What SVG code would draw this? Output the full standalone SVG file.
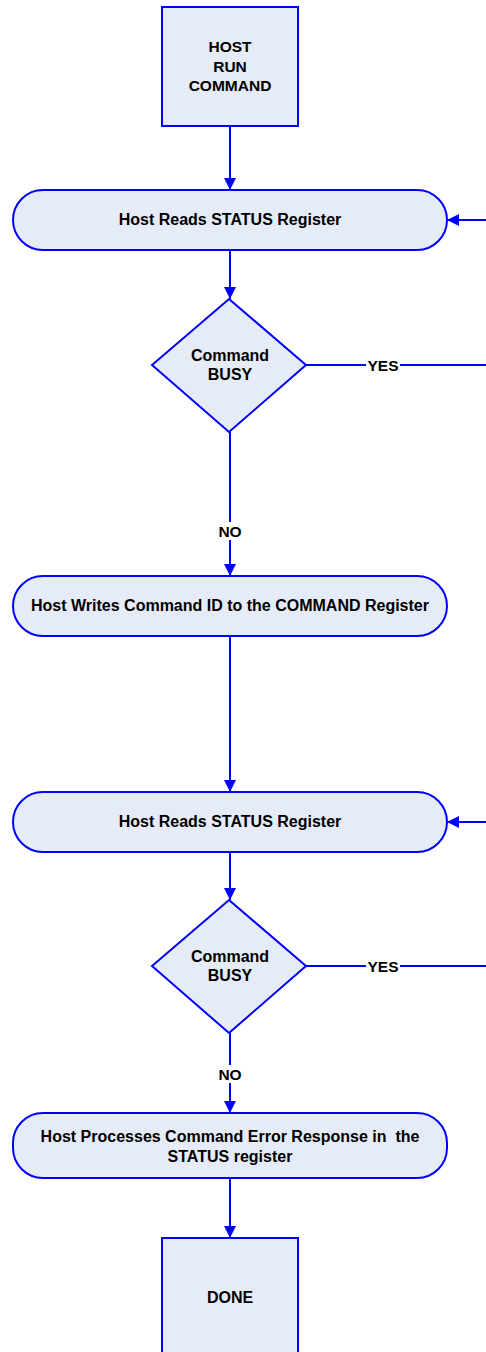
<svg xmlns="http://www.w3.org/2000/svg" width="486" height="1352" viewBox="0 0 486 1352">
<defs>
<marker id="ah" markerWidth="12" markerHeight="12" refX="12" refY="6" orient="auto" markerUnits="userSpaceOnUse">
<path d="M0,0 L12,6 L0,12 Z" fill="#0000FF"/>
</marker>
<style>
.n{fill:#E6ECF7;stroke:#0000FF;stroke-width:2}
.c{fill:none;stroke:#0000FF;stroke-width:2}
.t{font-family:"Liberation Sans",Arial,sans-serif;font-weight:bold;font-size:16px;fill:#000;text-anchor:middle}
.b{font-family:"Liberation Sans",Arial,sans-serif;font-weight:bold;font-size:15.5px;fill:#000;text-anchor:middle}
.lb{font-family:"Liberation Sans",Arial,sans-serif;font-weight:bold;font-size:15.5px;fill:#000;text-anchor:middle}
</style>
</defs>
<g id="connectors">
<line class="c" x1="230" y1="126" x2="230" y2="190" marker-end="url(#ah)"/>
<line class="c" x1="486" y1="220" x2="447" y2="220" marker-end="url(#ah)"/>
<line class="c" x1="230" y1="250" x2="230" y2="299" marker-end="url(#ah)"/>
<line class="c" x1="306" y1="365" x2="486" y2="365"/>
<line class="c" x1="230" y1="432" x2="230" y2="576" marker-end="url(#ah)"/>
<line class="c" x1="230" y1="636" x2="230" y2="792" marker-end="url(#ah)"/>
<line class="c" x1="486" y1="822" x2="447" y2="822" marker-end="url(#ah)"/>
<line class="c" x1="230" y1="852" x2="230" y2="900" marker-end="url(#ah)"/>
<line class="c" x1="306" y1="966" x2="486" y2="966"/>
<line class="c" x1="230" y1="1033" x2="230" y2="1113" marker-end="url(#ah)"/>
<line class="c" x1="230" y1="1178" x2="230" y2="1238" marker-end="url(#ah)"/>
<rect x="366" y="357" width="34" height="16" fill="#fff"/>
<text class="lb" x="383" y="371">YES</text>
<rect x="217" y="522" width="26" height="18" fill="#fff"/>
<text class="lb" x="230" y="537">NO</text>
<rect x="366" y="958" width="34" height="16" fill="#fff"/>
<text class="lb" x="383" y="972">YES</text>
<rect x="217" y="1065" width="26" height="18" fill="#fff"/>
<text class="lb" x="230" y="1080">NO</text>
</g>
<g id="start">
<rect class="n" x="162" y="7" width="136" height="119"/>
<text class="b" x="230" y="52">HOST</text>
<text class="b" x="230" y="72">RUN</text>
<text class="b" x="230" y="91">COMMAND</text>
</g>
<g id="read1">
<rect class="n" x="13" y="190" width="434" height="60" rx="30" ry="30"/>
<text class="t" x="230" y="225">Host Reads STATUS Register</text>
</g>
<g id="busy1">
<polygon class="n" points="229,299 306,365 229,432 152,365"/>
<text class="t" x="230" y="361">Command</text>
<text class="t" x="230" y="380">BUSY</text>
</g>
<g id="write">
<rect class="n" x="13" y="576" width="434" height="60" rx="30" ry="30"/>
<text class="t" x="230" y="611">Host Writes Command ID to the COMMAND Register</text>
</g>
<g id="read2">
<rect class="n" x="13" y="792" width="434" height="60" rx="30" ry="30"/>
<text class="t" x="230" y="827">Host Reads STATUS Register</text>
</g>
<g id="busy2">
<polygon class="n" points="229,900 306,966 229,1033 152,966"/>
<text class="t" x="230" y="962">Command</text>
<text class="t" x="230" y="981">BUSY</text>
</g>
<g id="process">
<rect class="n" x="13" y="1113" width="434" height="65" rx="30" ry="30"/>
<text class="t" x="230" y="1142" xml:space="preserve">Host Processes Command Error Response in  the</text>
<text class="t" x="230" y="1162">STATUS register</text>
</g>
<g id="done">
<rect class="n" x="162" y="1238" width="136" height="120"/>
<text class="t" x="230" y="1303">DONE</text>
</g>
</svg>
